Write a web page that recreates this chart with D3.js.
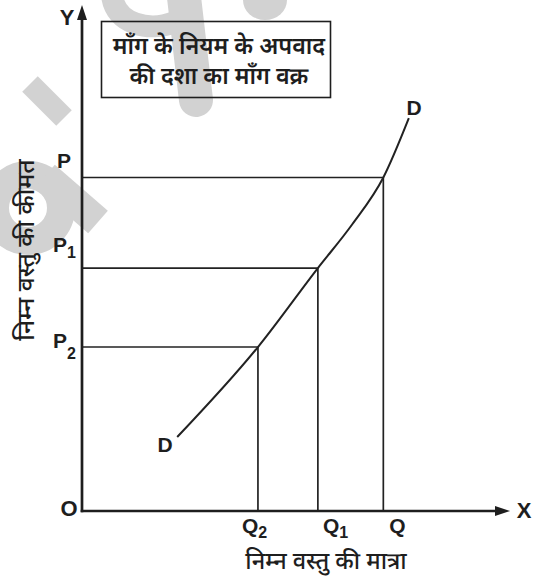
<!DOCTYPE html>
<html>
<head>
<meta charset="utf-8">
<script src="https://cdn.jsdelivr.net/npm/d3@7/dist/d3.min.js"></script>
<style>
  html, body { margin: 0; padding: 0; background: #fff; }
  svg { display: block; }
  .lat { font-family: "Liberation Sans", Arial, sans-serif; font-weight: 700; fill: #1e1e1e; }
  .dev { font-family: "Noto Sans Devanagari", "Lohit Devanagari", "Noto Sans", "Mangal", sans-serif; fill: #1e1e1e; }
</style>
</head>
<body>
<script>
// Demand curve of an inferior (Giffen) good: price and quantity rise together.
const quantityLabels = ["Q2", "Q1", "Q"];
const priceLabels = ["P2", "P1", "P"];
const quantities = [41.4, 55.5, 70.9];   // Q2, Q1, Q
const prices = [32.6, 48.3, 66.3];       // P2, P1, P
// Points along the D–D curve (quantity, price)
const curveQ = [22.4, 41.4, 55.5, 63.6, 70.9, 76.9];
const curveP = [14.7, 32.6, 48.3, 57.0, 66.3, 78.1];
const titleLines = ["माँग के नियम के अपवाद", "की दशा का माँग वक्र"];
const xTitle = "निम्न वस्तु की मात्रा";
const yTitle = "निम्न वस्तु की कीमत";

const W = 544, H = 578;
const svg = d3.select("body").append("svg").attr("width", W).attr("height", H);

const x = d3.scaleLinear().domain([0, 100]).range([82, 507]);
const y = d3.scaleLinear().domain([0, 100]).range([511, 8]);

// faint logo watermark
const wm = svg.append("g").attr("fill", "none").attr("stroke", "#d2d2d2");
wm.append("path").attr("d", "M30,84 L64,118").attr("stroke-width", 22);
wm.append("path").attr("d", "M182,-20 L196,100").attr("stroke-width", 34).attr("stroke-linecap", "round");
wm.append("path").attr("d", "M112,-5 C115,25 150,32 175,22").attr("stroke-width", 22);
wm.append("ellipse").attr("cx", 265).attr("cy", 0).attr("rx", 22).attr("ry", 20).attr("fill", "#d2d2d2").attr("stroke", "none");
wm.append("circle").attr("cx", 28).attr("cy", 208).attr("r", 33).attr("stroke-width", 28);
wm.append("path").attr("d", "M45,176 L98,222").attr("stroke-width", 30);

// guide lines from each (Q, P) pair to the axes
const guides = svg.append("g").attr("stroke", "#222").attr("stroke-width", 1.7).attr("fill", "none");
quantities.forEach((q, i) => {
  const p = prices[i];
  guides.append("line").attr("x1", x(0)).attr("x2", x(q)).attr("y1", y(p)).attr("y2", y(p));
  guides.append("line").attr("x1", x(q)).attr("x2", x(q)).attr("y1", y(p)).attr("y2", y(0));
});

// the demand curve
const line = d3.line().x(d => x(d[0])).y(d => y(d[1])).curve(d3.curveMonotoneX);
svg.append("path")
  .datum(curveQ.map((q, i) => [q, curveP[i]]))
  .attr("d", line)
  .attr("fill", "none").attr("stroke", "#222").attr("stroke-width", 2);

// axes with arrowheads
const axes = svg.append("g").attr("stroke", "#1e1e1e").attr("stroke-width", 2.7);
axes.append("line").attr("x1", x(0)).attr("x2", x(0)).attr("y1", y(0) + 1.3).attr("y2", y(100) + 8);
axes.append("line").attr("x1", x(0) - 1.3).attr("x2", x(100) - 6).attr("y1", y(0)).attr("y2", y(0));
svg.append("path").attr("fill", "#1e1e1e")
  .attr("d", `M${x(0)},${y(100) - 3} L${x(0) - 5},${y(100) + 12} L${x(0) + 5},${y(100) + 12} Z`);
svg.append("path").attr("fill", "#1e1e1e")
  .attr("d", `M${x(100) + 3},${y(0)} L${x(100) - 12},${y(0) - 5} L${x(100) - 12},${y(0) + 5} Z`);

// axis letters
svg.append("text").attr("class", "lat").attr("x", 67).attr("y", 25).attr("text-anchor", "middle").attr("font-size", 22).text("Y");
svg.append("text").attr("class", "lat").attr("x", 524).attr("y", 518).attr("text-anchor", "middle").attr("font-size", 22).text("X");
svg.append("text").attr("class", "lat").attr("x", 69).attr("y", 516).attr("text-anchor", "middle").attr("font-size", 22).text("O");

// price labels on the Y axis
const pOffsets = [1, -16, -9.5];
priceLabels.forEach((lab, i) => {
  const t = svg.append("text").attr("class", "lat").attr("font-size", 21)
    .attr("x", lab.length > 1 ? 53 : 57).attr("y", y(prices[i]) + pOffsets[i]);
  t.append("tspan").text(lab[0]);
  if (lab.length > 1) t.append("tspan").attr("font-size", 16).attr("dy", lab[1] === "2" ? 11 : 6).text(lab.slice(1));
});

// quantity labels under the X axis
const qOffsets = [-16, 5, 6];
quantityLabels.forEach((lab, i) => {
  const t = svg.append("text").attr("class", "lat").attr("font-size", 21)
    .attr("x", x(quantities[i]) + qOffsets[i]).attr("y", y(0) + 22);
  t.append("tspan").text(lab[0]);
  if (lab.length > 1) t.append("tspan").attr("font-size", 16).attr("dy", 5).text(lab.slice(1));
});

// D labels at both ends of the curve
svg.append("text").attr("class", "lat").attr("font-size", 21).attr("text-anchor", "middle")
  .attr("x", 165).attr("y", 452).text("D");
svg.append("text").attr("class", "lat").attr("font-size", 21).attr("text-anchor", "middle")
  .attr("x", 414).attr("y", 115).text("D");

// title box
svg.append("rect").attr("x", 101.5).attr("y", 21.5).attr("width", 229).attr("height", 76)
  .attr("fill", "none").attr("stroke", "#1e1e1e").attr("stroke-width", 1.6);
titleLines.forEach((s, i) => {
  svg.append("text").attr("class", "dev").attr("font-size", 23.3).attr("font-weight", 600)
    .attr("text-anchor", "middle").attr("x", 219).attr("y", 54 + i * 29.5).text(s);
});

// axis titles
svg.append("text").attr("class", "dev").attr("font-size", 23.5).attr("font-weight", 500)
  .attr("text-anchor", "middle").attr("x", 326).attr("y", 569).text(xTitle);
svg.append("text").attr("class", "dev").attr("font-size", 24.5).attr("font-weight", 500)
  .attr("text-anchor", "middle").attr("transform", "translate(34,250) rotate(-90)").text(yTitle);
</script>
</body>
</html>
